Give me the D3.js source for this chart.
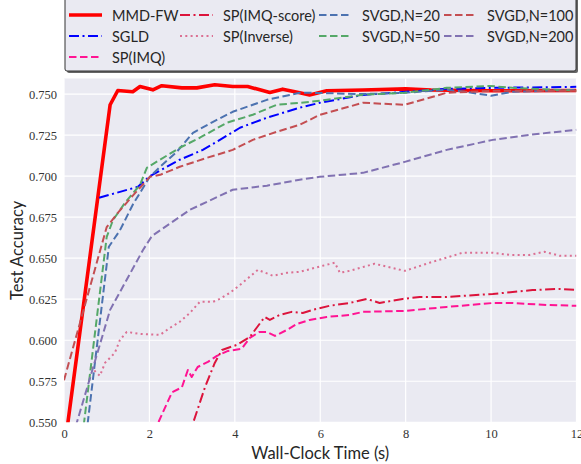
<!DOCTYPE html>
<html><head><meta charset="utf-8">
<script src="https://cdn.jsdelivr.net/npm/d3@7"></script>
<style>body{margin:0;background:#fff}svg{display:block}</style>
</head><body>
<svg id="c" width="581" height="464"></svg>
<script>
// ---- data ----
const xTicks = [0, 2, 4, 6, 8, 10, 12];
const yTicks = [0.550, 0.575, 0.600, 0.625, 0.650, 0.675, 0.700, 0.725, 0.750];

const mmdT = [0, 1.08, 1.26, 1.61, 1.78, 2.08, 2.29, 2.76, 3.11, 3.53, 3.95, 4.30, 4.82, 5.12, 5.52, 5.75, 6.15, 7.0, 8.0, 8.6, 10.0, 12.0];
const mmdV = [0.532, 0.7435, 0.7522, 0.7514, 0.7546, 0.7526, 0.7551, 0.7538, 0.7538, 0.7557, 0.7546, 0.7546, 0.751, 0.753, 0.7508, 0.7495, 0.752, 0.7525, 0.7532, 0.7525, 0.752, 0.7522];

const sgldT = [0.82, 1.73, 2.01, 2.71, 3.25, 3.65, 4.12, 4.75, 5.52, 5.99, 7.0, 8.96, 10.04, 12.0];
const sgldV = [0.6868, 0.6935, 0.700, 0.710, 0.716, 0.7221, 0.7295, 0.7356, 0.7417, 0.7447, 0.7495, 0.7532, 0.7538, 0.7544];

const imqT = [2.0, 2.53, 2.76, 2.9, 2.99, 3.13, 3.37, 3.58, 3.84, 4.16, 4.35, 4.58, 4.75, 4.94, 5.22, 5.45, 5.75, 6.15, 6.69, 7.0, 7.98, 8.96, 10.04, 10.5, 11.3, 12.0];
const imqV = [0.538, 0.5683, 0.5713, 0.5819, 0.5776, 0.5837, 0.5868, 0.5905, 0.5935, 0.5948, 0.6014, 0.6051, 0.6051, 0.6026, 0.6063, 0.6099, 0.6124, 0.6142, 0.6154, 0.6173, 0.6179, 0.6203, 0.6227, 0.6227, 0.6215, 0.621];

const imqsT = [2.9, 3.3, 3.53, 3.7, 4.05, 4.35, 4.7, 4.82, 5.05, 5.33, 5.59, 5.82, 6.22, 6.69, 7.09, 7.39, 7.93, 8.33, 8.96, 10.04, 10.97, 11.6, 12.0];
const imqsV = [0.540, 0.5713, 0.5862, 0.5941, 0.5972, 0.602, 0.6142, 0.6124, 0.6154, 0.6173, 0.6166, 0.6185, 0.621, 0.6227, 0.6252, 0.6227, 0.6252, 0.6264, 0.6264, 0.6282, 0.6306, 0.6313, 0.6306];

const invT = [0.62, 0.84, 0.96, 1.19, 1.31, 1.47, 1.78, 2.25, 2.48, 2.71, 2.95, 3.18, 3.49, 3.65, 3.88, 4.12, 4.54, 4.89, 5.22, 5.52, 6.06, 6.34, 6.46, 6.69, 7.27, 7.98, 8.56, 9.33, 9.56, 10.04, 10.43, 10.9, 11.25, 11.6, 12.0];
const invV = [0.5838, 0.5783, 0.5862, 0.5923, 0.6002, 0.6051, 0.6039, 0.6033, 0.6075, 0.6112, 0.6167, 0.6234, 0.6234, 0.6252, 0.6288, 0.6337, 0.6429, 0.6393, 0.6411, 0.6417, 0.6454, 0.6472, 0.6411, 0.6423, 0.6466, 0.6423, 0.6472, 0.6533, 0.6533, 0.6533, 0.652, 0.652, 0.6539, 0.6515, 0.6515];

const s20T = [0.4, 1.05, 1.31, 1.61, 2.01, 2.25, 2.64, 3.02, 3.49, 3.95, 4.75, 5.52, 5.75, 7.0, 7.98, 8.96, 9.4, 10.0, 10.5, 12.0];
const s20V = [0.516, 0.657, 0.667, 0.6826, 0.6996, 0.7057, 0.7148, 0.7264, 0.7331, 0.7392, 0.7465, 0.7508, 0.7508, 0.750, 0.7508, 0.7526, 0.7514, 0.749, 0.7514, 0.7526];

const s50T = [0.4, 1.0, 1.15, 1.43, 1.78, 1.94, 2.25, 2.71, 3.18, 3.81, 4.42, 4.98, 5.52, 5.99, 7.0, 7.98, 8.96, 9.96, 10.5, 12.0];
const s50V = [0.535, 0.663, 0.6734, 0.6838, 0.6947, 0.7051, 0.710, 0.7173, 0.7234, 0.7325, 0.7374, 0.7435, 0.7447, 0.7459, 0.7496, 0.7508, 0.7538, 0.755, 0.7538, 0.752];

const s100T = [0, 1.0, 1.26, 1.59, 2.01, 2.25, 2.71, 3.35, 3.95, 4.42, 4.98, 5.52, 5.99, 7.0, 7.98, 8.96, 10.04, 12.0];
const s100V = [0.5757, 0.669, 0.6776, 0.6875, 0.6996, 0.7008, 0.7057, 0.7112, 0.716, 0.7221, 0.727, 0.7313, 0.7374, 0.7447, 0.7435, 0.7508, 0.752, 0.752];

const s200T = [0.2, 1.08, 1.85, 2.06, 2.95, 3.95, 4.75, 5.52, 5.99, 7.0, 7.98, 8.96, 10.04, 10.9, 12.0];
const s200V = [0.541, 0.6185, 0.655, 0.6636, 0.6795, 0.6917, 0.6942, 0.6978, 0.6996, 0.702, 0.7087, 0.716, 0.7221, 0.7252, 0.7282];

const seriesNames = ["MMD-FW", "SGLD", "SP(IMQ)", "SP(IMQ-score)", "SP(Inverse)", "SVGD,N=20", "SVGD,N=50", "SVGD,N=100", "SVGD,N=200"];
const seriesT = [mmdT, sgldT, imqT, imqsT, invT, s20T, s50T, s100T, s200T];
const seriesV = [mmdV, sgldV, imqV, imqsV, invV, s20V, s50V, s100V, s200V];

// ---- styles ----
const styles = [
  {c: "#ff0000", w: 3.6, d: null},
  {c: "#0000ff", w: 2, d: "10,3.5,2,3.5"},
  {c: "#ff1493", w: 2, d: "7.5,3.5"},
  {c: "#dc143c", w: 2, d: "10,3.5,2,3.5"},
  {c: "#db7093", w: 2, d: "2,3.3"},
  {c: "#4c72b0", w: 2, d: "7.5,3.5"},
  {c: "#55a868", w: 2, d: "7.5,3.5"},
  {c: "#c44e52", w: 2, d: "7.5,3.5"},
  {c: "#8172b2", w: 2, d: "7.5,3.5"}
];

const svg = d3.select("#c");
const L = 64, R = 576.5, T = 78.5, B = 422.3;
const x = d3.scaleLinear().domain([0, 12]).range([L, R]);
const y = d3.scaleLinear().domain([0.55, 0.7595]).range([B, T]);

svg.append("rect").attr("x", L).attr("y", T).attr("width", R - L).attr("height", B - T).attr("fill", "#eaeaf2");

// grid
svg.append("g").selectAll("line").data(xTicks).join("line")
  .attr("x1", d => x(d)).attr("x2", d => x(d)).attr("y1", T).attr("y2", B)
  .attr("stroke", "#fff").attr("stroke-width", 1.2);
svg.append("g").selectAll("line").data(yTicks).join("line")
  .attr("x1", L).attr("x2", R).attr("y1", d => y(d)).attr("y2", d => y(d))
  .attr("stroke", "#fff").attr("stroke-width", 1.2);

// axes (labels only, via d3 axes)
const xa = svg.append("g").attr("transform", `translate(0,${B})`)
  .call(d3.axisBottom(x).tickValues(xTicks).tickSize(0).tickPadding(7).tickFormat(d3.format("d")));
const ya = svg.append("g").attr("transform", `translate(${L},0)`)
  .call(d3.axisLeft(y).tickValues(yTicks).tickSize(0).tickPadding(7).tickFormat(d3.format(".3f")));
[xa, ya].forEach(a => {
  a.select(".domain").remove();
  a.selectAll("text").attr("font-family", "'Liberation Serif', serif").attr("font-size", 12.5).attr("fill", "#333");
});

svg.append("defs").append("clipPath").attr("id", "clip")
  .append("rect").attr("x", L).attr("y", T).attr("width", R - L).attr("height", B - T);

const line = d3.line().x(d => x(d[0])).y(d => y(d[1]));
const g = svg.append("g").attr("clip-path", "url(#clip)");
seriesNames.forEach((n, i) => {
  const pts = seriesT[i].map((t, j) => [t, seriesV[i][j]]);
  g.append("path").attr("d", line(pts)).attr("fill", "none")
    .attr("stroke", styles[i].c).attr("stroke-width", styles[i].w)
    .attr("stroke-dasharray", styles[i].d).attr("stroke-linejoin", "round");
});

// axis titles
svg.append("text").attr("x", (L + R) / 2).attr("y", 458.5).attr("text-anchor", "middle")
  .attr("font-family", "Lato, sans-serif").attr("font-size", 16.5).attr("fill", "#262626").text("Wall-Clock Time (s)");
svg.append("text").attr("transform", `translate(23,${(T + B) / 2}) rotate(-90)`).attr("text-anchor", "middle")
  .attr("font-family", "Lato, sans-serif").attr("font-size", 16.5).attr("fill", "#262626").text("Test Accuracy");

// legend
const lg = svg.append("g");
lg.append("rect").attr("x", 67).attr("y", -4).attr("width", 511).attr("height", 77).attr("fill", "#666").attr("rx", 2);
lg.append("rect").attr("x", 65).attr("y", -6).attr("width", 511).attr("height", 77).attr("fill", "#eaeaf2")
  .attr("stroke", "#333").attr("stroke-width", 1).attr("rx", 2);
const colX = [69, 180, 319, 444];
const colOf = [0, 0, 0, 1, 1, 2, 2, 3, 3];
const rowOf = [0, 1, 2, 0, 1, 0, 1, 0, 1];
const rowY = [15, 36, 57];
seriesNames.forEach((n, i) => {
  const lx = colX[colOf[i]], ly = rowY[rowOf[i]];
  lg.append("line").attr("x1", lx).attr("x2", lx + 33).attr("y1", ly).attr("y2", ly)
    .attr("stroke", styles[i].c).attr("stroke-width", styles[i].w)
    .attr("stroke-dasharray", styles[i].d);
  lg.append("text").attr("x", lx + 43).attr("y", ly + 5.5)
    .attr("font-family", "Lato, sans-serif").attr("font-size", 14.5).attr("fill", "#262626").text(n);
});
</script>
</body></html>
